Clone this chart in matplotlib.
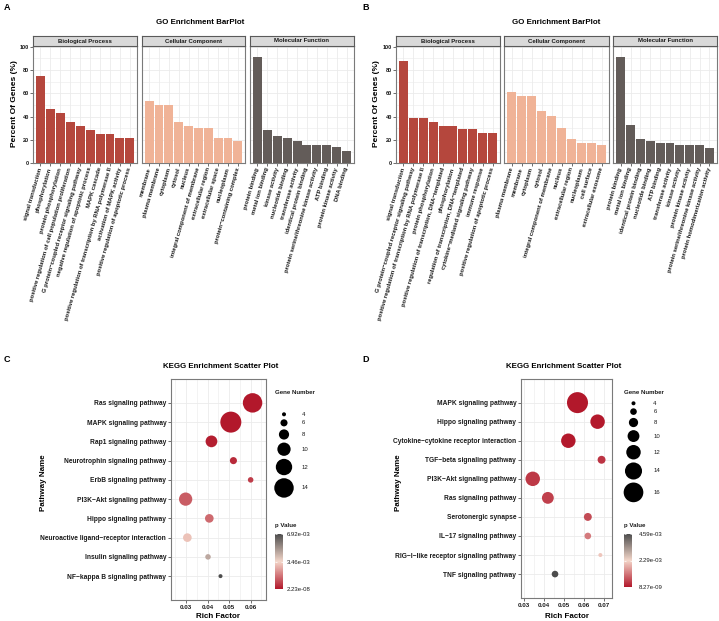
import numpy as np
import matplotlib
matplotlib.use("Agg")
import matplotlib.pyplot as plt
from matplotlib.colors import LinearSegmentedColormap, Normalize
from matplotlib.cm import ScalarMappable

plt.rcParams['font.family'] = ['Liberation Sans', 'DejaVu Sans']

# ===============================
# DATA
# ===============================

facets = ["Biological Process", "Cellular Component", "Molecular Function"]

# panel A (GO)
a_bp_terms = ["signal transduction", "phosphorylation", "protein phosphorylation",
              "positive regulation of cell population proliferation",
              "G protein\u2212coupled receptor signaling pathway",
              "negative regulation of apoptotic process", "MAPK cascade",
              "positive regulation of transcription by RNA polymerase II",
              "activation of MAPK activity", "positive regulation of apoptotic process"]
a_bp_pct = [75.0, 46.4, 42.9, 35.7, 32.1, 28.6, 25.0, 25.0, 21.4, 21.4]
a_cc_terms = ["membrane", "plasma membrane", "cytoplasm", "cytosol", "nucleus",
              "integral component of membrane", "extracellular region",
              "extracellular space", "nucleoplasm", "protein\u2212containing complex"]
a_cc_pct = [53.5, 49.8, 49.8, 35.5, 32.0, 30.0, 30.0, 21.4, 21.4, 19.6]
a_mf_terms = ["protein binding", "metal ion binding", "kinase activity", "nucleotide binding",
              "transferase activity", "identical protein binding",
              "protein serine/threonine kinase activity", "ATP binding",
              "protein kinase activity", "DNA binding"]
a_mf_pct = [90.9, 28.4, 23.1, 21.4, 19.4, 15.9, 15.9, 15.9, 14.4, 10.7]

# panel B (GO)
b_bp_terms = ["signal transduction", "G protein\u2212coupled receptor signaling pathway",
              "positive regulation of transcription by RNA polymerase II",
              "protein phosphorylation",
              "positive regulation of transcription, DNA\u2212templated", "phosphorylation",
              "regulation of transcription, DNA\u2212templated",
              "cytokine\u2212mediated signaling pathway", "immune response",
              "positive regulation of apoptotic process"]
b_bp_pct = [87.4, 38.9, 38.9, 35.6, 32.4, 32.4, 29.2, 29.2, 26.0, 26.0]
b_cc_terms = ["plasma membrane", "membrane", "cytoplasm", "cytosol",
              "integral component of membrane", "nucleus", "extracellular region",
              "nucleoplasm", "cell surface", "extracellular exosome"]
b_cc_pct = [61.6, 58.2, 58.2, 45.3, 40.5, 30.7, 21.0, 17.8, 17.8, 16.1]
b_mf_terms = ["protein binding", "metal ion binding", "identical protein binding",
              "nucleotide binding", "ATP binding", "transferase activity", "kinase activity",
              "protein kinase activity", "protein serine/threonine kinase activity",
              "protein homodimerization activity"]
b_mf_pct = [90.9, 32.5, 21.2, 19.5, 17.8, 17.8, 16.1, 16.1, 16.1, 13.0]

# panel C (KEGG)
c_path = ["Ras signaling pathway", "MAPK signaling pathway", "Rap1 signaling pathway",
          "Neurotrophin signaling pathway", "ErbB signaling pathway",
          "PI3K\u2212Akt signaling pathway", "Hippo signaling pathway",
          "Neuroactive ligand\u2212receptor interaction", "Insulin signaling pathway",
          "NF\u2212kappa B signaling pathway"]
c_rich = [0.0609, 0.0508, 0.0418, 0.0520, 0.0600, 0.0298, 0.0408, 0.0306, 0.0402, 0.0460]
c_count = [14, 15, 9, 6, 5, 10, 7, 7, 5, 4]
c_pval = [1.0e-6, 2.23e-8, 1.2e-4, 3.5e-4, 7.0e-4, 1.25e-3, 1.5e-3, 3.1e-3, 4.6e-3, 6.92e-3]
c_breaks = [4, 6, 8, 10, 12, 14]

# panel D (KEGG)
d_path = ["MAPK signaling pathway", "Hippo signaling pathway",
          "Cytokine\u2212cytokine receptor interaction", "TGF\u2212beta signaling pathway",
          "PI3K\u2212Akt signaling pathway", "Ras signaling pathway", "Serotonergic synapse",
          "IL\u221217 signaling pathway", "RIG\u2212I\u2212like receptor signaling pathway",
          "TNF signaling pathway"]
d_rich = [0.0569, 0.0670, 0.0523, 0.0690, 0.0344, 0.0420, 0.0621, 0.0621, 0.0684, 0.0456]
d_count = [17, 12, 12, 7, 12, 10, 7, 6, 4, 6]
d_pval = [8.27e-9, 2.0e-5, 3.0e-5, 3.5e-4, 4.0e-4, 5.0e-4, 6.2e-4, 1.2e-3, 2.1e-3, 4.587e-3]
d_breaks = [4, 6, 8, 10, 12, 14, 16]

# ===============================
# STYLE
# ===============================

W, H = 719, 621
go_colors = ["#B5473D", "#F0B397", "#635C59"]
grid_c = "#EBEBEB"
border_c = "#7A7A7A"
txt_c = "#1A1A1A"
pv_cmap = LinearSegmentedColormap.from_list("pv", ["#B2182B", "#F3D6C9", "#4D4D4D"])

fig = plt.figure(figsize=(W / 100, H / 100), dpi=100)


def box(l, t, r, b):
    return [l / W, 1 - b / H, (r - l) / W, (b - t) / H]


def style_spines(ax):
    for s in ax.spines.values():
        s.set_color(border_c)
        s.set_linewidth(0.8)


def go_plot(letter, lx, cols, title_x, ylab_x, pcts, terms):
    fig.text(lx, 1 - 7 / H, letter, fontsize=6.5, fontweight="bold", va="center")
    fig.text(title_x / W, 1 - 22.5 / H, "GO Enrichment BarPlot", fontsize=5.7,
             fontweight="bold", ha="center", va="center")
    fig.text(ylab_x / W, 1 - 104 / H, "Percent Of Genes (%)", fontsize=6,
             fontweight="bold", rotation=90, ha="center", va="center")
    for k, (l, r) in enumerate(cols):
        ax = fig.add_axes(box(l, 46.2, r, 163.4))
        x = np.arange(len(pcts[k]))
        ax.bar(x, pcts[k], width=0.9, color=go_colors[k], zorder=3)
        ax.set_xlim(-0.75, 9.75)
        ax.set_ylim(0, 100.5)
        ax.set_yticks(range(0, 101, 20))
        ax.set_yticks(range(10, 100, 20), minor=True)
        ax.set_xticks(x)
        ax.set_xticklabels(terms[k], rotation=74, ha="right", va="center",
                           rotation_mode="anchor", fontsize=4.2, fontweight="bold",
                           color=txt_c)
        ax.grid(which="major", color=grid_c, lw=0.6, zorder=0)
        ax.grid(which="minor", axis="y", color=grid_c, lw=0.4, zorder=0)
        ax.tick_params(axis="both", which="major", length=2, width=0.5,
                       color="#333333", pad=1)
        ax.tick_params(axis="y", which="minor", length=0)
        if k == 0:
            ax.set_yticklabels([str(v) for v in range(0, 101, 20)], fontsize=4,
                               fontweight="bold", color=txt_c)
        else:
            ax.tick_params(axis="y", which="major", length=0, labelleft=False)
        ax.set_axisbelow(True)
        style_spines(ax)
        st = fig.add_axes(box(l, 35.8, r, 46.2))
        st.set_facecolor("#D9D9D9")
        st.set_xticks([])
        st.set_yticks([])
        for s in st.spines.values():
            s.set_color("#5A5A5A")
            s.set_linewidth(0.8)
        st.text(0.5, 0.5, facets[k], transform=st.transAxes, ha="center", va="center",
                fontsize=4.3, fontweight="bold", color=txt_c)


go_plot("A", 4 / W, [(33, 137.3), (141.8, 245.3), (250, 354)], 200.5, 15,
        [a_bp_pct, a_cc_pct, a_mf_pct], [a_bp_terms, a_cc_terms, a_mf_terms])
go_plot("B", 362 / W, [(396, 500), (504.3, 609.3), (613.3, 716.8)], 555.8, 376,
        [b_bp_pct, b_cc_pct, b_mf_pct], [b_bp_terms, b_cc_terms, b_mf_terms])

# overlay axes in pixel units for the size legends
ov = fig.add_axes([0, 0, 1, 1], zorder=10)
ov.set_xlim(0, W)
ov.set_ylim(H, 0)
ov.axis("off")


def size_px(n, nmin, nmax):
    return 4 + 17 * (np.asarray(n, float) - nmin) / (nmax - nmin)


def kegg_plot(letter, lx, pbox, title_x, ylab_x, xlim, xmajor, xminor,
              paths, rich, count, pval, breaks, leg_x, leg_y0, lab_x, cbar_box, cb_lab_pad):
    l, t, r, b = pbox
    fig.text(lx, 1 - 359.5 / H, letter, fontsize=6.5, fontweight="bold", va="center")
    fig.text(title_x / W, 1 - 366.7 / H, "KEGG Enrichment Scatter Plot", fontsize=5.7,
             fontweight="bold", ha="center", va="center")
    fig.text(ylab_x / W, 1 - 483 / H, "Pathway Name", fontsize=5.8, fontweight="bold",
             rotation=90, ha="center", va="center")
    fig.text((l + r) / 2 / W, 1 - 616.5 / H, "Rich Factor", fontsize=5.8,
             fontweight="bold", ha="center", va="center")

    ax = fig.add_axes(box(l, t, r, b))
    nmin, nmax = min(count), max(count)
    d = size_px(count, nmin, nmax)
    vmin, vmax = min(pval), max(pval)
    norm = Normalize(vmin, vmax)
    y = np.arange(len(paths))
    ax.scatter(rich, y, s=(d * 0.72) ** 2, c=pval, cmap=pv_cmap, norm=norm,
               linewidths=0, zorder=3)
    ax.set_xlim(*xlim)
    ax.set_ylim(len(paths) - 1 + 1.24, -1.24)
    ax.set_yticks(y)
    ax.set_yticklabels(paths, fontsize=4.8, fontweight="bold", color=txt_c)
    ax.set_xticks(xmajor)
    ax.set_xticklabels(["%.2f" % v for v in xmajor], fontsize=4.5, fontweight="bold",
                       color=txt_c)
    ax.set_xticks(xminor, minor=True)
    ax.grid(which="major", color=grid_c, lw=0.6, zorder=0)
    ax.grid(which="minor", axis="x", color=grid_c, lw=0.4, zorder=0)
    ax.tick_params(which="major", length=2, width=0.5, color="#333333", pad=1.5)
    ax.tick_params(which="minor", length=0)
    ax.set_axisbelow(True)
    style_spines(ax)

    # size legend
    fig.text((leg_x - 9) / W, 1 - 393 / H, "Gene Number", fontsize=4.4,
             fontweight="bold", va="center", color=txt_c)
    kd = size_px(breaks, nmin, nmax)
    kh = kd + 3.0
    centers = leg_y0 + np.concatenate([[0], np.cumsum((kh[:-1] + kh[1:]) / 2)])
    ov.scatter([leg_x] * len(breaks), centers, s=(kd * 0.72) ** 2, color="black",
               linewidths=0)
    for bv, cy in zip(breaks, centers):
        ov.text(lab_x, cy, str(bv), fontsize=4.3, va="center", ha="left", color=txt_c)

    # colour bar
    fig.text(cbar_box[0] / W, 1 - 526 / H, "p Value", fontsize=4.4, fontweight="bold",
             va="center", color=txt_c)
    cax = fig.add_axes(box(*cbar_box))
    cb = fig.colorbar(ScalarMappable(norm=norm, cmap=pv_cmap), cax=cax)
    ticks = [vmin, (vmin + vmax) / 2, vmax]
    cb.set_ticks(ticks)
    cb.set_ticklabels(["%.2e" % v for v in ticks])
    cb.outline.set_visible(False)
    cax.tick_params(left=True, right=True, direction="in", length=1.5, width=0.5,
                    color="white", labelsize=4.3, labelcolor=txt_c, pad=cb_lab_pad)


kegg_plot("C", 4 / W, (171, 379, 265.7, 600), 220.8, 43.3,
          (0.0230, 0.0670), [0.03, 0.04, 0.05, 0.06], [0.025, 0.035, 0.045, 0.055, 0.065],
          c_path, c_rich, c_count, c_pval, c_breaks, 284, 414.3, 301.7,
          (275, 534, 283, 589), 2.6)
kegg_plot("D", 362 / W, (521, 379, 612.3, 597.7), 563.8, 398,
          (0.0285, 0.0744), [0.03, 0.04, 0.05, 0.06, 0.07], [0.035, 0.045, 0.055, 0.065],
          d_path, d_rich, d_count, d_pval, d_breaks, 633.5, 403.3, 653.3,
          (624, 534, 632.3, 587), 4.5)

fig.savefig("out.png", dpi=100)
